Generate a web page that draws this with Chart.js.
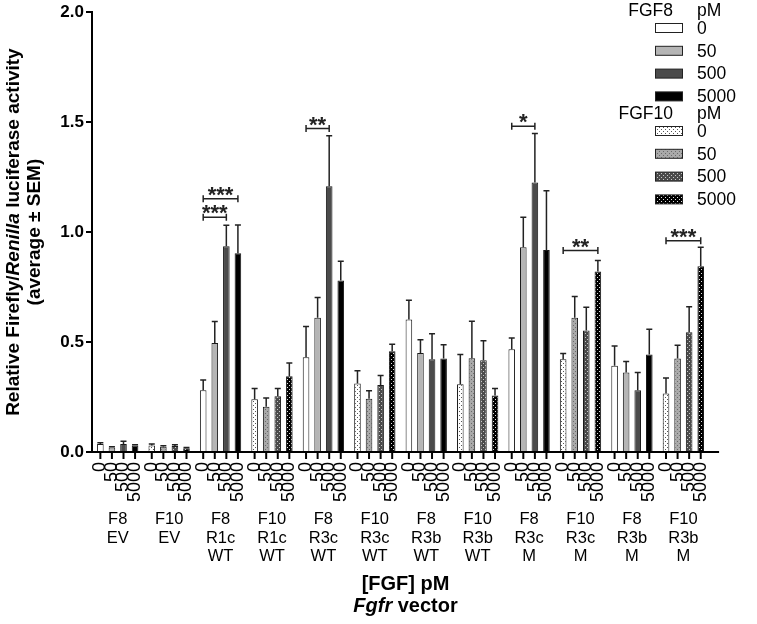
<!DOCTYPE html>
<html>
<head>
<meta charset="utf-8">
<script src="https://cdn.jsdelivr.net/npm/chart.js@4.4.1/dist/chart.umd.min.js"></script>
<style>
  body { margin: 0; background: #fff; }
  #wrap { width: 757px; height: 624px; }
</style>
</head>
<body>
<div id="wrap"><canvas id="chart" width="757" height="624"></canvas></div>
<script>
const FONT = "'Liberation Sans', Arial, Helvetica, sans-serif"

const groupLabels = [
  ['F8', 'EV'], ['F10', 'EV'],
  ['F8', 'R1c', 'WT'], ['F10', 'R1c', 'WT'],
  ['F8', 'R3c', 'WT'], ['F10', 'R3c', 'WT'],
  ['F8', 'R3b', 'WT'], ['F10', 'R3b', 'WT'],
  ['F8', 'R3c', 'M'], ['F10', 'R3c', 'M'],
  ['F8', 'R3b', 'M'], ['F10', 'R3b', 'M']
]
const doses = ['0', '50', '500', '5000']

// means per dose, one value per group
const mean0 = [0.036, 0.029, 0.281, 0.240, 0.431, 0.311, 0.602, 0.308, 0.467, 0.422, 0.392, 0.266]
const mean50 = [0.020, 0.024, 0.496, 0.206, 0.611, 0.242, 0.450, 0.426, 0.931, 0.611, 0.361, 0.425]
const mean500 = [0.036, 0.027, 0.936, 0.254, 1.209, 0.305, 0.422, 0.417, 1.226, 0.552, 0.281, 0.544]
const mean5000 = [0.029, 0.017, 0.904, 0.345, 0.780, 0.458, 0.425, 0.257, 0.919, 0.821, 0.443, 0.845]

// SEM (upper error bar only)
const sem0 = [0.006, 0.007, 0.046, 0.049, 0.140, 0.059, 0.088, 0.135, 0.051, 0.026, 0.090, 0.071]
const sem50 = [0.004, 0.004, 0.098, 0.040, 0.092, 0.036, 0.061, 0.169, 0.136, 0.096, 0.050, 0.060]
const sem500 = [0.013, 0.006, 0.095, 0.035, 0.229, 0.043, 0.116, 0.089, 0.222, 0.106, 0.080, 0.117]
const sem5000 = [0.004, 0.003, 0.128, 0.060, 0.088, 0.032, 0.063, 0.032, 0.269, 0.050, 0.115, 0.086]

// significance brackets
const sigGroup = [2, 2, 4, 8, 9, 11]
const sigFrom = [0, 0, 0, 0, 0, 0]
const sigTo = [2, 3, 2, 2, 3, 3]
const sigLevel = [1.067, 1.152, 1.471, 1.481, 0.916, 0.961]
const sigText = ['***', '***', '**', '*', '**', '***']

const means = [mean0, mean50, mean500, mean5000]
const sems = [sem0, sem50, sem500, sem5000]

const solidColors = ['#ffffff', '#b5b5b5', '#4b4b4b', '#000000']
const dotBg = ['#ffffff', '#a9a9a9', '#4b4b4b', '#000000']
const dotFg = ['#555555', '#6a6a6a', '#c8c8c8', '#e0e0e0']

const makeDots = (bg, fg) => {
  const c = document.createElement('canvas')
  c.width = 4
  c.height = 4
  const g = c.getContext('2d')
  g.fillStyle = bg
  g.fillRect(0, 0, 4, 4)
  g.fillStyle = fg
  g.fillRect(1, 1, 1, 1)
  g.fillRect(3, 3, 1, 1)
  return document.getElementById('chart').getContext('2d').createPattern(c, 'repeat')
}
const dotPatterns = dotBg.map((bg, i) => makeDots(bg, dotFg[i]))

const fillFor = (dose, group) =>
  groupLabels[group][0] === 'F8' ? solidColors[dose] : dotPatterns[dose]

const errorBars = {
  id: 'errorBars',
  afterDatasetsDraw(chart) {
    const { ctx, scales: { y } } = chart
    ctx.save()
    ctx.strokeStyle = '#222'
    ctx.lineWidth = 1.5
    chart.data.datasets.forEach((ds, d) => {
      chart.getDatasetMeta(d).data.forEach((bar, i) => {
        const top = y.getPixelForValue(means[d][i] + sems[d][i])
        ctx.beginPath()
        ctx.moveTo(bar.x, bar.y)
        ctx.lineTo(bar.x, top)
        ctx.moveTo(bar.x - 3, top)
        ctx.lineTo(bar.x + 3, top)
        ctx.stroke()
      })
    })
    ctx.restore()
  }
}

const barTicks = {
  id: 'barTicks',
  afterDraw(chart) {
    const { ctx, chartArea } = chart
    const base = chartArea.bottom
    ctx.save()
    // axis line runs on a little past the last group
    ctx.strokeStyle = '#000'
    ctx.lineWidth = 2
    ctx.beginPath()
    ctx.moveTo(chartArea.right - 1, base)
    ctx.lineTo(chartArea.right + 10, base)
    ctx.stroke()
    ctx.font = '18px ' + FONT
    ctx.fillStyle = '#000'
    ctx.textAlign = 'right'
    ctx.textBaseline = 'middle'
    chart.data.datasets.forEach((ds, d) => {
      chart.getDatasetMeta(d).data.forEach((bar) => {
        ctx.beginPath()
        ctx.moveTo(bar.x, base)
        ctx.lineTo(bar.x, base + 7)
        ctx.stroke()
        ctx.save()
        ctx.translate(bar.x, base + 10)
        ctx.rotate(-Math.PI / 2)
        ctx.fillText(doses[d], 0, 0)
        ctx.restore()
      })
    })
    ctx.restore()
  }
}

const sigBrackets = {
  id: 'sigBrackets',
  afterDatasetsDraw(chart) {
    const { ctx, scales: { y } } = chart
    ctx.save()
    ctx.strokeStyle = '#222'
    ctx.fillStyle = '#222'
    ctx.lineWidth = 1.5
    ctx.font = 'bold 22px ' + FONT
    ctx.textAlign = 'center'
    ctx.textBaseline = 'alphabetic'
    sigGroup.forEach((g, k) => {
      const x1 = chart.getDatasetMeta(sigFrom[k]).data[g].x
      const x2 = chart.getDatasetMeta(sigTo[k]).data[g].x
      const yy = y.getPixelForValue(sigLevel[k])
      ctx.beginPath()
      ctx.moveTo(x1, yy)
      ctx.lineTo(x2, yy)
      ctx.moveTo(x1, yy - 3.5)
      ctx.lineTo(x1, yy + 3.5)
      ctx.moveTo(x2, yy - 3.5)
      ctx.lineTo(x2, yy + 3.5)
      ctx.stroke()
      ctx.fillText(sigText[k], (x1 + x2) / 2, yy + 3)
    })
    ctx.restore()
  }
}

const titles = {
  id: 'titles',
  afterDraw(chart) {
    const { ctx, chartArea } = chart
    ctx.save()
    ctx.fillStyle = '#000'
    ctx.textBaseline = 'middle'
    // y axis title with italic Renilla
    const parts = [
      ['bold 19px ' + FONT, 'Relative Firefly/'],
      ['italic bold 19px ' + FONT, 'Renilla'],
      ['bold 19px ' + FONT, ' luciferase activity']
    ]
    let total = 0
    parts.forEach(([f, t]) => { ctx.font = f; total += ctx.measureText(t).width })
    const cy = (chartArea.top + chartArea.bottom) / 2
    ctx.save()
    ctx.translate(14, cy)
    ctx.rotate(-Math.PI / 2)
    ctx.textAlign = 'left'
    let x = -total / 2
    parts.forEach(([f, t]) => {
      ctx.font = f
      ctx.fillText(t, x, 0)
      x += ctx.measureText(t).width
    })
    ctx.textAlign = 'center'
    ctx.font = 'bold 19px ' + FONT
    ctx.fillText('(average \u00b1 SEM)', 0, 21)
    ctx.restore()

    // x axis titles
    const cx = (chartArea.left + chartArea.right + 10) / 2
    ctx.textBaseline = 'alphabetic'
    ctx.textAlign = 'center'
    ctx.font = 'bold 20px ' + FONT
    ctx.fillText('[FGF] pM', cx, 590)
    const a = 'Fgfr', b = ' vector'
    ctx.font = 'italic bold 20px ' + FONT
    const wa = ctx.measureText(a).width
    ctx.font = 'bold 20px ' + FONT
    const wb = ctx.measureText(b).width
    ctx.textAlign = 'left'
    ctx.font = 'italic bold 20px ' + FONT
    ctx.fillText(a, cx - (wa + wb) / 2, 612)
    ctx.font = 'bold 20px ' + FONT
    ctx.fillText(b, cx - (wa + wb) / 2 + wa, 612)
    ctx.restore()
  }
}

const legendBox = {
  id: 'legendBox',
  afterDraw(chart) {
    const { ctx } = chart
    ctx.save()
    ctx.fillStyle = '#000'
    ctx.font = '17.5px ' + FONT
    ctx.textBaseline = 'middle'
    const block = (title, y0, fills) => {
      ctx.textAlign = 'right'
      ctx.fillText(title, 673, y0)
      ctx.textAlign = 'left'
      ctx.fillText('pM', 697, y0)
      fills.forEach((f, i) => {
        const yy = y0 + 17 + i * 22.8
        ctx.fillStyle = f
        ctx.fillRect(655, yy - 4.5, 28, 9)
        ctx.strokeStyle = '#222'
        ctx.lineWidth = 1
        ctx.strokeRect(655.5, yy - 4.5, 27, 9)
        ctx.fillStyle = '#000'
        ctx.fillText(doses[i], 697, yy + 1)
      })
    }
    block('FGF8', 11, solidColors)
    block('FGF10', 114, dotPatterns)
    ctx.restore()
  }
}

const datasets = doses.map((dose, d) => ({
  label: dose,
  data: means[d],
  backgroundColor: means[d].map((v, g) => fillFor(d, g)),
  borderColor: '#1a1a1a',
  borderWidth: 1,
  categoryPercentage: 0.9,
  barPercentage: 0.57
}))

new Chart(document.getElementById('chart'), {
  type: 'bar',
  data: { labels: groupLabels, datasets },
  plugins: [errorBars, barTicks, sigBrackets, titles, legendBox],
  options: {
    responsive: false,
    animation: false,
    layout: { padding: { top: 11, right: 12, left: 0, bottom: 0 } },
    plugins: {
      legend: { display: false },
      tooltip: { enabled: false }
    },
    scales: {
      x: {
        type: 'category',
        offset: true,
        grid: { display: false, drawTicks: false },
        border: { display: true, color: '#000', width: 2 },
        ticks: {
          autoSkip: false,
          maxRotation: 0,
          padding: 58,
          color: '#000',
          font: { size: 16.5, family: FONT, lineHeight: 1.13 }
        },
        afterFit(scale) { scale.height = 172 }
      },
      y: {
        min: 0,
        max: 2,
        grid: { drawOnChartArea: false, drawTicks: true, tickLength: 6, color: '#000', lineWidth: 2 },
        border: { display: true, color: '#000', width: 2 },
        ticks: {
          stepSize: 0.5,
          padding: 2,
          color: '#000',
          font: { size: 17, weight: 'bold', family: FONT },
          callback: (v) => v.toFixed(1)
        },
        afterFit(scale) { scale.width = 92 }
      }
    }
  }
})
</script>
</body>
</html>
